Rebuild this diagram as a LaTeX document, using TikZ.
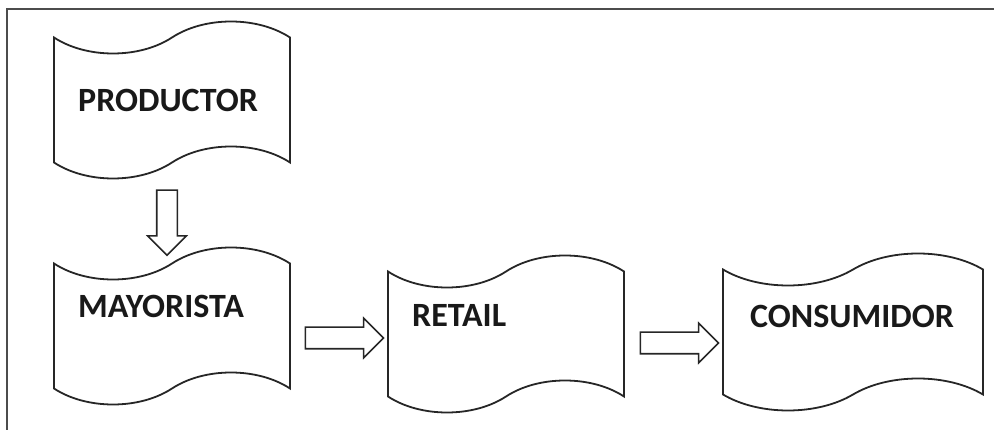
\documentclass[tikz,border=0pt]{standalone}
\usepackage{fontspec}
\setmainfont{Carlito}
\usetikzlibrary{shapes.symbols,shapes.arrows,positioning,calc}

\tikzset{
    tapebox/.style={tape, draw=black!85, line width=1.8pt, minimum width=236pt,
        minimum height=157pt, tape bend height=32pt, inner sep=0pt},
    lbl/.style={font=\fontsize{34}{38}\selectfont\bfseries, text=black!90,
        inner sep=0pt, anchor=base west},
    fatarrow/.style={single arrow, draw=black!85, line width=1.6pt, inner xsep=0pt,
        inner ysep=10pt, text height=0pt, text depth=0pt, single arrow head extend=9pt,
        single arrow tip angle=90, minimum height=78pt},
}

\begin{document}
\begin{tikzpicture}[x=1pt, y=-1pt]
    \useasboundingbox (0,0) rectangle (994,430);

    % Frame (only left and top edges show)
    \draw[line width=2.6pt, black!70] (7,430) -- (7,9) -- (994,9);

    % Tapes
    \node[tapebox] (prod) at (172,100) {};
    \node[tapebox] (mayor) at (172,326) {};
    \node[tapebox] (retail) at (506,334) {};
    \node[tapebox, minimum width=260pt] (consum) at (853,332) {};

    % Labels
    \node[lbl] (prodtxt) at (78,112) {PRODUCTOR};
    \node[lbl] (mayortxt) at (78,318) {MAYORISTA};
    \node[lbl] (retailtxt) at (412,327) {RETAIL};
    \node[lbl] (consumtxt) at (750,328) {CONSUMIDOR};

    % Block arrows
    \node[fatarrow, minimum height=65pt, inner ysep=9.5pt, rotate=-90] (a1) at (167,217.5) {};
    \node[fatarrow] (a2) at (339,338) {};
    \node[fatarrow] (a3) at (674,343) {};
\end{tikzpicture}
\end{document}
